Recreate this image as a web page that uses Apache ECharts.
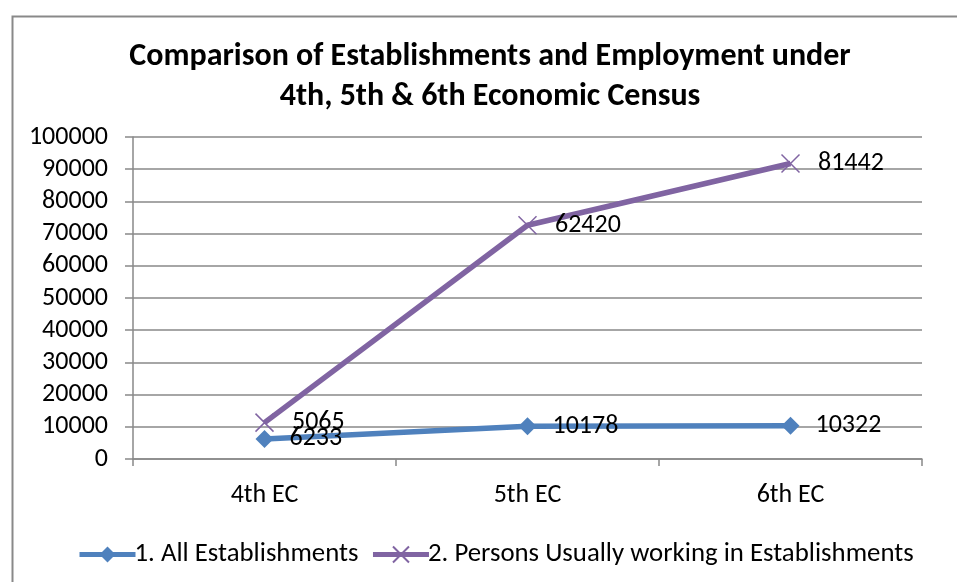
<!DOCTYPE html>
<html>
<head>
<meta charset="utf-8">
<script src="https://cdn.jsdelivr.net/npm/echarts@6/dist/echarts.min.js"></script>
<style>
html,body{margin:0;padding:0;background:#fff;}
#chart{width:957px;height:582px;}
</style>
</head>
<body>
<div id="chart"></div>
<script>
const categories = ['4th EC', '5th EC', '6th EC'];
const establishments = [6233, 10178, 10322];
const persons = [5065, 62420, 81442];
const seriesNames = ['1. All Establishments', '2. Persons Usually working in Establishments'];
const titleText = 'Comparison of Establishments and Employment under\n4th, 5th & 6th Economic Census';

const FONT = 'Carlito, Lato, "Open Sans", sans-serif';
const chart = echarts.init(document.getElementById('chart'), null, {renderer: 'canvas'});
const crossPath = 'path://M0,0L10,10M10,0L0,10';

chart.setOption({
  animation: false,
  backgroundColor: '#fff',
  textStyle: {fontFamily: FONT},
  graphic: [{
    type: 'rect', left: 10, top: 14, z: -10,
    shape: {width: 1000, height: 700},
    style: {fill: 'none', stroke: '#898989', lineWidth: 2}
  }],
  title: {
    text: titleText,
    left: 490,
    top: 37,
    padding: 0,
    textAlign: 'center',
    textStyle: {fontFamily: FONT, fontSize: 32, fontWeight: 'bold', color: '#000', lineHeight: 40}
  },
  legend: {
    top: 536,
    left: 72,
    itemWidth: 56,
    itemHeight: 20,
    itemGap: 12,
    lineStyle: {width: 5},
    textStyle: {fontFamily: FONT, fontSize: 26.8, color: '#000', padding: [0, 0, 0, -6]},
    data: seriesNames
  },
  grid: {left: 133, right: 35, top: 137, bottom: 123, containLabel: false},
  xAxis: {
    type: 'category',
    data: categories,
    boundaryGap: true,
    axisLine: {show: true, lineStyle: {color: '#898989', width: 1.5}},
    axisTick: {show: true, alignWithLabel: false, length: 7, lineStyle: {color: '#898989', width: 1.5}},
    axisLabel: {fontFamily: FONT, fontSize: 26, color: '#000', margin: 23}
  },
  yAxis: {
    type: 'value',
    min: 0, max: 100000, interval: 10000,
    axisLine: {show: true, lineStyle: {color: '#898989', width: 1.5}},
    axisTick: {show: true, length: 8, lineStyle: {color: '#898989', width: 1.5}},
    splitLine: {show: true, lineStyle: {color: '#898989', width: 1.5}},
    axisLabel: {fontFamily: FONT, fontSize: 26, color: '#000', margin: 25, formatter: function (v) { return String(v); }}
  },
  series: [{
    name: seriesNames[0],
    type: 'line',
    stack: 'total',
    data: establishments,
    symbol: 'diamond',
    symbolSize: 18,
    lineStyle: {color: '#4F81BD', width: 5.5},
    itemStyle: {color: '#4F81BD'},
    label: {show: true, position: 'right', distance: 16, fontFamily: FONT, fontSize: 26, color: '#000'}
  }, {
    name: seriesNames[1],
    type: 'line',
    stack: 'total',
    data: persons,
    symbol: crossPath,
    symbolSize: 18,
    lineStyle: {color: '#8064A2', width: 5.5},
    itemStyle: {color: 'none', borderColor: '#8064A2', borderWidth: 1.5},
    label: {show: true, position: 'right', distance: 16, fontFamily: FONT, fontSize: 26, color: '#000'}
  }]
});
</script>
</body>
</html>
